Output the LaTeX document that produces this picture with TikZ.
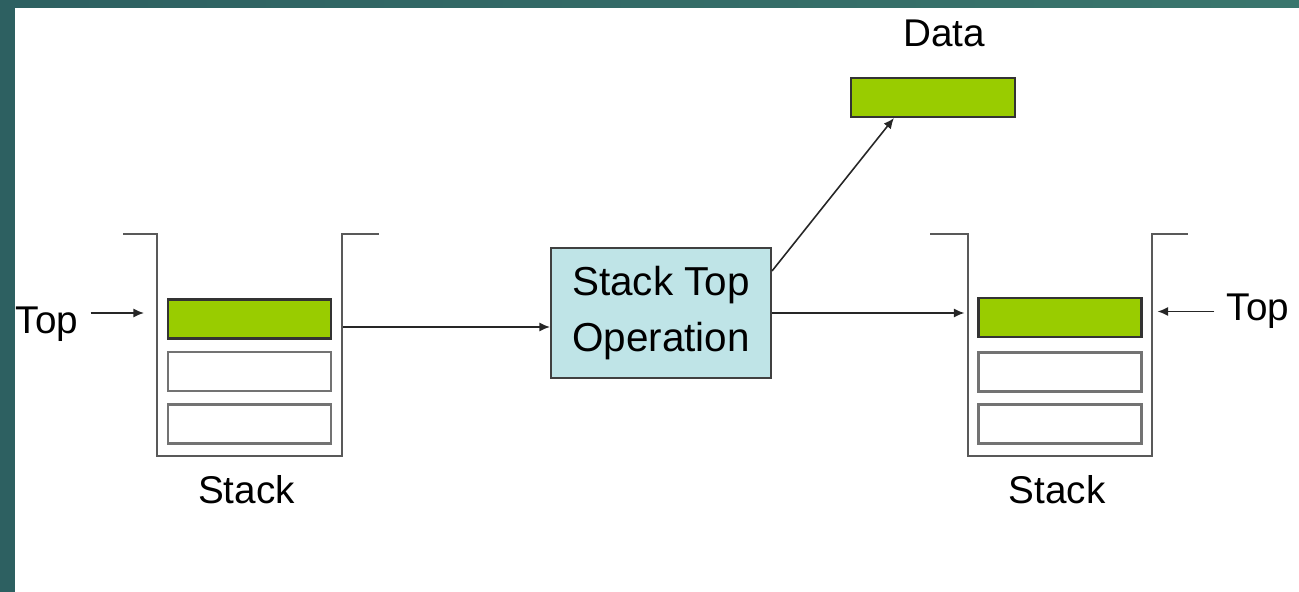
\documentclass[tikz,border=0pt]{standalone}
\usepackage{fontspec}
\setmainfont{Liberation Sans}
\usepackage{tikz}
\usetikzlibrary{positioning}
\usetikzlibrary{arrows.meta}
\definecolor{stackgreen}{RGB}{153,204,0}
\definecolor{opblue}{RGB}{191,228,231}
\definecolor{frameteal}{RGB}{45,96,97}
\definecolor{frametealr}{RGB}{58,118,109}
\tikzset{
  box/.style            = { rectangle, inner sep=0pt },
  label/.style          = { font=\fontsize{11}{13}\selectfont },
  wall/.style           = { line width=0.6pt, draw=black!65 },
}
\tikzset{
  cell/.style={
    box,
    minimum width=1.63cm,
    minimum height=0.39cm,
    line width=0.6pt,
    draw=black!55
  },
  topcell/.style        = { cell, fill=stackgreen, draw=black!80 },
  operation/.style      = { box, draw=black!75, fill=opblue, line width=0.6pt,
                            minimum width=2.2cm, minimum height=1.3cm, align=center,
                            font=\fontsize{11.5}{16}\selectfont },
  flow/.style           = { line width=0.45pt, draw=black!85, ->,
                            >={Latex[length=3pt,width=2.6pt]} }
}

\begin{document}
\begin{tikzpicture}
  \useasboundingbox (0,0) rectangle (12.99,-5.92);
  \shade [left color=frameteal, right color=frametealr] (0,0) rectangle (12.99,-0.08);
  \fill [frameteal] (0,0) rectangle (0.15,-5.92);

  % left stack
  \draw [wall] (1.23,-2.34) -- (1.57,-2.34) -- (1.57,-4.56) -- (3.42,-4.56) -- (3.42,-2.34) -- (3.79,-2.34);
  \node (lcell1) [topcell] at (2.495,-3.19)  {};
  \node (lcell2) [cell]    at (2.495,-3.715) {};
  \node (lcell3) [cell]    at (2.495,-4.24)  {};
  \node (lstack) [label,below=1.9mm of lcell3,xshift=-0.3mm] {Stack};
  \node (ltop)   [label,anchor=base] at (0.47,-3.33) {Top};

  % right stack
  \draw [wall] (9.30,-2.34) -- (9.68,-2.34) -- (9.68,-4.56) -- (11.52,-4.56) -- (11.52,-2.34) -- (11.88,-2.34);
  \node (rcell1) [topcell] at (10.60,-3.175) {};
  \node (rcell2) [cell]    at (10.60,-3.72)  {};
  \node (rcell3) [cell]    at (10.60,-4.24)  {};
  \node (rstack) [label,below=1.9mm of rcell3,xshift=-0.3mm] {Stack};
  \node (rtop)   [label,anchor=base] at (12.58,-3.21) {Top};

  \node (op)    [operation] at (6.61,-3.13) {Stack Top\\Operation};
  \node (data)  [box,draw=black!80,fill=stackgreen,line width=0.6pt,
                 minimum width=1.64cm,minimum height=0.39cm] at (9.33,-0.975) {};
  \node (dlabel) [label,above=1.8mm of data,xshift=1.1mm] {Data};

  \draw [flow,shorten >=2.3mm] ([yshift=0.6mm]ltop.east |- lcell1) -- ([yshift=0.6mm]lcell1.west);
  \draw [flow,shorten <=1.1mm] ([yshift=-0.8mm]lcell1.east) -- ([yshift=-0.8mm]lcell1.east -| op.west);
  \draw [flow,shorten >=1.3mm] (op.east) -- (op.east -| rcell1.west);
  \draw [flow,shorten >=1.5mm] ([yshift=0.6mm]rtop.west |- rcell1) -- ([yshift=0.6mm]rcell1.east);
  \draw [flow] ([yshift=-2.4mm]op.north east) -- ([xshift=4.4mm]data.south west);
\end{tikzpicture}
\end{document}
